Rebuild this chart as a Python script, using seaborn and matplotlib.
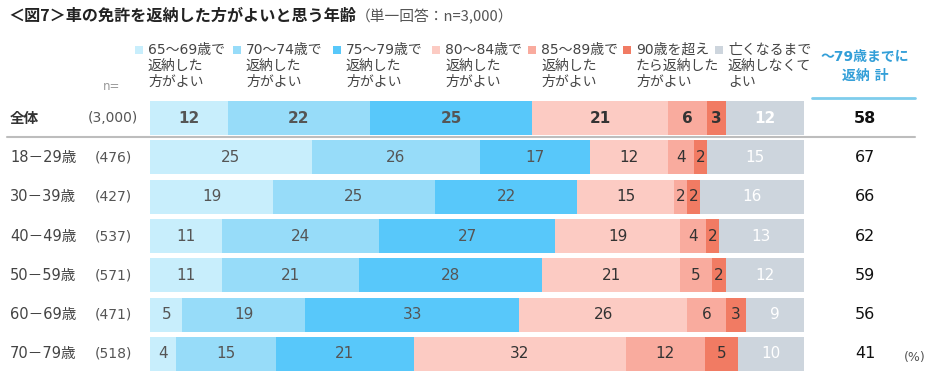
import numpy as np
import pandas as pd
import seaborn as sns
import matplotlib.pyplot as plt
from matplotlib import transforms
from matplotlib.patches import Rectangle

# データ（単一回答：n=3,000, %）
rows = ["全体", "18－29歳", "30－39歳", "40－49歳", "50－59歳", "60－69歳", "70－79歳"]
n_labels = ["(3,000)", "(476)", "(427)", "(537)", "(571)", "(471)", "(518)"]
legend_labels = [
    "65～69歳で\n返納した\n方がよい",
    "70～74歳で\n返納した\n方がよい",
    "75～79歳で\n返納した\n方がよい",
    "80～84歳で\n返納した\n方がよい",
    "85～89歳で\n返納した\n方がよい",
    "90歳を超え\nたら返納した\n方がよい",
    "亡くなるまで\n返納しなくて\nよい",
]
v_6569 = [12, 25, 19, 11, 11, 5, 4]
v_7074 = [22, 26, 25, 24, 21, 19, 15]
v_7579 = [25, 17, 22, 27, 28, 33, 21]
v_8084 = [21, 12, 15, 19, 21, 26, 32]
v_8589 = [6, 4, 2, 4, 5, 6, 12]
v_90 = [3, 2, 2, 2, 2, 3, 5]
v_never = [12, 15, 16, 13, 12, 9, 10]
total_79 = [58, 67, 66, 62, 59, 56, 41]

colors = ["#c8eefc", "#97dcf9", "#58c8fa", "#fccbc3", "#f9ab9e", "#f17b63", "#cdd5dd"]
text_colors = ["#555555", "#555555", "#555555", "#333333", "#333333", "#333333", "white"]

sns.set_theme(style="white")
plt.rcParams['font.family'] = ['DejaVu Sans', 'Noto Sans CJK JP']

W, H = 934, 378
fx = lambda px: px / W
fy = lambda py: 1 - py / H

fig = plt.figure(figsize=(9.34, 3.78), dpi=100)
ax = fig.add_axes([fx(150), fy(373.6), fx(804) - fx(150), (373.6 - 98.4) / H])

vals = np.array([v_6569, v_7074, v_7579, v_8084, v_8589, v_90, v_never], dtype=float)
share = vals / vals.sum(axis=0) * 100
cum = np.cumsum(share, axis=0)

# 累積値を長い順に重ねて帯グラフにする
for k in range(len(colors) - 1, -1, -1):
    df = pd.DataFrame({"row": rows, "cum": cum[k]})
    sns.barplot(data=df, x="cum", y="row", order=rows, orient="h", color=colors[k],
                width=0.87, saturation=1, linewidth=0, errorbar=None, ax=ax)

ax.set_xlim(0, 100)
ax.set_ylim(6.5, -0.5)
ax.axis("off")

# 帯の数値
for i in range(len(rows)):
    for k in range(len(colors)):
        xc = cum[k, i] - share[k, i] / 2
        ax.text(xc, i, f"{int(vals[k, i])}", ha="center", va="center",
                fontsize=11, color=text_colors[k],
                fontweight="bold" if i == 0 else "normal")

tr = transforms.blended_transform_factory(fig.transFigure, ax.transData)
for i, (r, n, t) in enumerate(zip(rows, n_labels, total_79)):
    bold = "bold" if i == 0 else "normal"
    ax.text(fx(10), i, r, transform=tr, ha="left", va="center", fontsize=10.5,
            color="#333333" if i == 0 else "#444444", fontweight=bold)
    ax.text(fx(113), i, n, transform=tr, ha="center", va="center", fontsize=10,
            color="#555555")
    ax.text(fx(865), i, f"{t}", transform=tr, ha="center", va="center", fontsize=11.5,
            color="#111111", fontweight=bold)

# 全体の下の区切り線
fig.add_artist(plt.Line2D([fx(7), fx(915)], [fy(136.5), fy(136.5)], color="#bdbdbd",
                          lw=1.5, zorder=0))
# 合計列の見出し
fig.add_artist(plt.Line2D([fx(812), fx(915)], [fy(98), fy(98)], color="#7fcdec", lw=2))
fig.text(fx(865), fy(57), "～79歳までに", ha="center", va="center", fontsize=10,
         color="#339fd8", fontweight="bold")
fig.text(fx(865), fy(76), "返納 計", ha="center", va="center", fontsize=10,
         color="#339fd8", fontweight="bold")

# 凡例
leg_x = [135, 233, 333, 432, 528, 623, 715]
for x0, lab, c in zip(leg_x, legend_labels, colors):
    fig.add_artist(Rectangle((fx(x0), fy(54)), 8 / W, 8 / H, transform=fig.transFigure,
                             color=c, lw=0))
    for j, line in enumerate(lab.split("\n")):
        fig.text(fx(x0 + 13), fy(50 + 16 * j), line, ha="left", va="center",
                 fontsize=10, color="#444444")

fig.text(fx(112), fy(87), "n=", ha="center", va="center", fontsize=8.5, color="#999999")
fig.text(fx(915), fy(357), "(%)", ha="center", va="center", fontsize=9, color="#555555")

# タイトル
title = fig.text(fx(8), fy(16), "＜図7＞車の免許を返納した方がよいと思う年齢", ha="left",
                 va="center", fontsize=11.6, fontweight="bold", color="#222222",
                 family="Noto Sans CJK JP")
fig.canvas.draw()
x_end = title.get_window_extent().x1 / W
fig.text(x_end, fy(17), "（単一回答：n=3,000）", ha="left", va="center",
         fontsize=10.6, color="#555555", family="Noto Sans CJK JP")

fig.savefig("out.png", dpi=100)
